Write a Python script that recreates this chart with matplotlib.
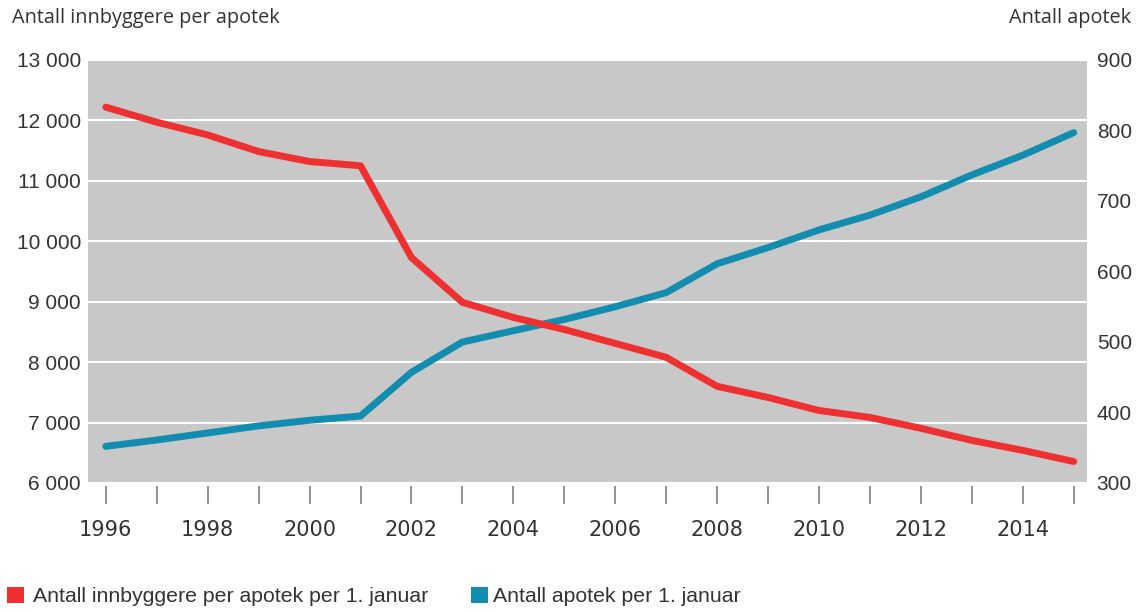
import matplotlib
matplotlib.use("Agg")
import matplotlib.pyplot as plt
from matplotlib.patches import Rectangle

years = list(range(1996, 2016))
innbyggere = [12220, 11970, 11760, 11485, 11320, 11250, 9730, 8990, 8740, 8540,
              8310, 8080, 7600, 7415, 7200, 7085, 6905, 6705, 6540, 6355]
apotek = [352, 361, 371, 381, 389, 395, 457, 500, 516, 532,
          550, 570, 611, 634, 659, 680, 706, 737, 765, 797]

left_ticks = [6000, 7000, 8000, 9000, 10000, 11000, 12000, 13000]
left_labels = ["6 000", "7 000", "8 000", "9 000", "10 000", "11 000", "12 000", "13 000"]
right_ticks = [300, 400, 500, 600, 700, 800, 900]
label_years = list(range(1996, 2016, 2))

left_title = "Antall innbyggere per apotek"
right_title = "Antall apotek"
legend_labels = ["Antall innbyggere per apotek per 1. januar", "Antall apotek per 1. januar"]

RED = "#EE3130"
BLUE = "#138DAF"
BG = "#C8C8C8"
TXT = "#333333"
TICKFONT = "Liberation Sans"

fig = plt.figure(figsize=(11.4, 6.12), dpi=100)
W, H = 1140, 612
ax = fig.add_axes([88 / W, 1 - 483 / H, (1087 - 88) / W, (483 - 60) / H])
ax2 = ax.twinx()

ax.plot(years, innbyggere, color=RED, lw=5, solid_capstyle="round", solid_joinstyle="round", zorder=3)
ax2.plot(years, apotek, color=BLUE, lw=5, solid_capstyle="round", solid_joinstyle="round", zorder=3)

ax.set_zorder(ax2.get_zorder() + 1)
ax.patch.set_visible(False)
ax2.patch.set_visible(True)
ax2.patch.set_facecolor(BG)

ax.set_xlim(1995.65, 2015.26)
ax.set_ylim(6000, 13000)
ax2.set_ylim(300, 900)

ax.set_yticks(left_ticks)
ax.set_yticklabels(left_labels)
ax2.set_yticks(right_ticks)
ax2.set_yticklabels([str(v) for v in right_ticks])

ax.set_xticks(years)
ax.set_xticklabels([str(y) if y in label_years else "" for y in years])

for a in (ax, ax2):
    for s in a.spines.values():
        s.set_visible(False)

for v in left_ticks:
    ax2.axhline(300 + (v - 6000) / 7000 * 600, color="white", lw=1.5, zorder=1)

ax.tick_params(axis="x", direction="out", length=13, width=1.2, color="#808080",
               pad=12, labelsize=15, labelcolor=TXT)
ax.tick_params(axis="y", length=0, pad=5, labelsize=15, labelcolor=TXT)
ax2.tick_params(axis="y", length=0, pad=7, labelsize=15, labelcolor=TXT)
ax2.tick_params(axis="x", length=0)

for lab in ax.get_xticklabels() + ax.get_yticklabels() + ax2.get_yticklabels():
    lab.set_fontfamily(TICKFONT)

ax.spines["bottom"].set_position(("outward", 2))

fig.text(12 / W, 1 - 18 / H, left_title, ha="left", va="center", fontsize=14.3,
         color=TXT, family="Open Sans")
fig.text(1131 / W, 1 - 18 / H, right_title, ha="right", va="center", fontsize=14.3,
         color=TXT, family="Open Sans")

# legend: colour squares and labels
for (x0, x_text), color, label in zip([(7, 33), (471, 493)], [RED, BLUE], legend_labels):
    fig.patches.append(Rectangle((x0 / W, 1 - 603 / H), 17 / W, 16 / H,
                                 transform=fig.transFigure, facecolor=color,
                                 edgecolor="none"))
    fig.text(x_text / W, 1 - 597 / H, label, ha="left", va="center", fontsize=15.3,
             color=TXT, family=TICKFONT)

fig.savefig("out.png", dpi=100, facecolor="white")
